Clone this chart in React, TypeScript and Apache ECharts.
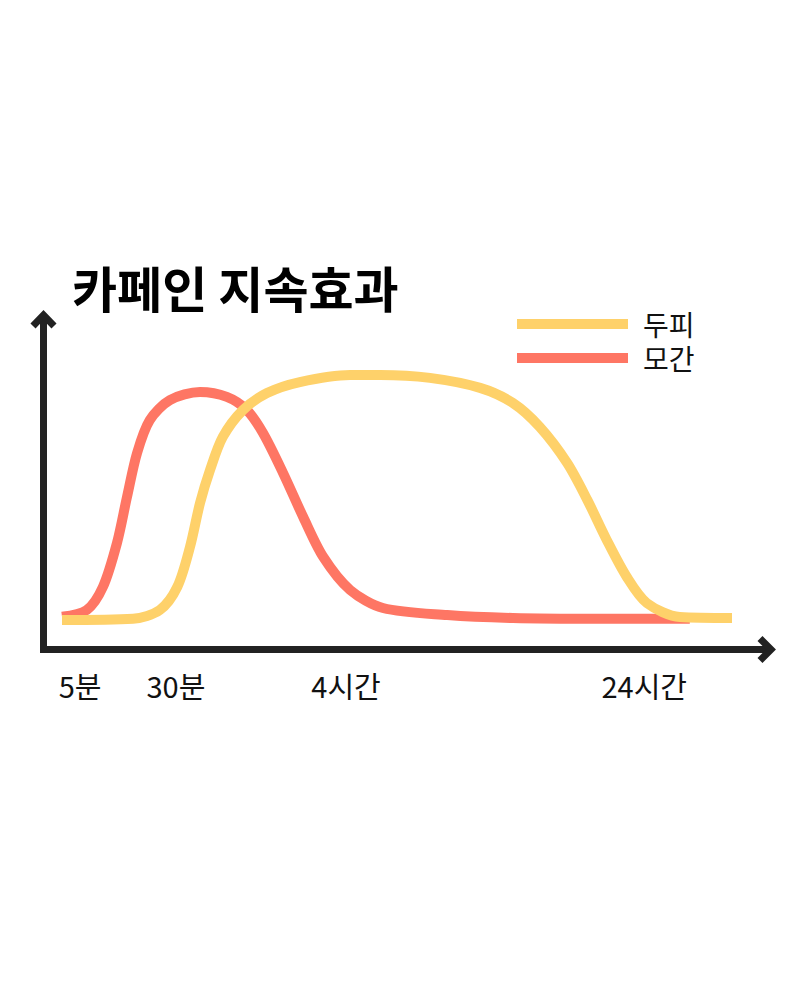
import React, { useEffect, useRef } from "react";
import * as echarts from "echarts";

// Time position (0–100 along the time axis) and effect level (0–100)
const hairCurve: [number, number][] = [
  [0, 0.5], [3.7, 3.3], [6.1, 12.7], [8.2, 30.7], [9.7, 49.6], [11.2, 67.6],
  [13.1, 81.1], [16.1, 89.3], [20.6, 92.6], [24.6, 90.6], [27.6, 85.2],
  [30.0, 75.8], [33.0, 59.4], [36.0, 41.4], [39.0, 25.0], [43.0, 11.5],
  [47.9, 4.1], [57.5, 1.2], [67.3, 0], [80, -0.3], [93.7, -0.3],
];

const scalpCurve: [number, number][] = [
  [0, -0.8], [10.6, -0.3], [14.6, 3.3], [17.2, 12.7], [19.1, 29.1], [20.6, 47.1],
  [22.1, 60.7], [24.0, 74.2], [27.0, 85.2], [30.6, 92.2], [35.5, 96.7],
  [43.0, 99.6], [47.5, 99.6], [54.9, 98.4], [62.4, 94.3], [67.3, 88.1],
  [71.3, 78.3], [75.4, 63.5], [78.4, 48.4], [81.3, 32.0], [84.3, 16.8],
  [87.3, 6.1], [92.2, 0.4], [100, 0],
];

const seriesNames = ["두피", "모간"];
const tickPositions = [2.7, 17.0, 42.4, 86.9];
const tickLabels = ["5분", "30분", "4시간", "24시간"];
const titleText = "카페인 지속효과";

const FONT = '"Noto Sans CJK KR", "Noto Sans", sans-serif';
const YELLOW = "#FED16A";
const RED = "#FE7664";
const AXIS = "#222222";

export default function App() {
  const ref = useRef<HTMLDivElement>(null);

  useEffect(() => {
    document.body.style.margin = "0";
    if (!ref.current) return;
    const chart = echarts.init(ref.current, null, { renderer: "svg" });
    const labelMap: Record<string, string> = {};
    tickPositions.forEach((p, i) => (labelMap[String(p)] = tickLabels[i]));

    chart.setOption({
      animation: false,
      backgroundColor: "#ffffff",
      title: {
        text: titleText,
        left: 67,
        top: 257,
        textStyle: { fontFamily: FONT, fontSize: 49, fontWeight: "bold", color: "#000" },
      },
      legend: {
        orient: "vertical",
        left: 512,
        top: 305,
        itemWidth: 111,
        itemHeight: 10,
        itemGap: 6,
        icon: "rect",
        data: seriesNames,
        textStyle: {
          fontFamily: FONT,
          fontSize: 28,
          color: "#111",
          padding: [0, 0, 0, 10],
        },
      },
      grid: { left: 62, right: 68, top: 374, bottom: 382 },
      xAxis: {
        type: "value",
        min: 0,
        max: 100,
        splitLine: { show: false },
        axisLine: { show: false },
        axisTick: { show: false },
        axisLabel: {
          customValues: tickPositions,
          formatter: (v: number) => labelMap[String(v)] ?? "",
          margin: 52,
          fontFamily: FONT,
          fontSize: 29,
          color: "#111",
        },
      },
      yAxis: {
        type: "value",
        min: 0,
        max: 100,
        show: false,
      },
      graphic: [
        {
          type: "line",
          shape: { x1: 43.5, y1: 653, x2: 43.5, y2: 316 },
          style: { stroke: AXIS, lineWidth: 7 },
          z: 1,
        },
        {
          type: "polyline",
          shape: { points: [[33, 326], [43.5, 315], [54, 326]] },
          style: { stroke: AXIS, lineWidth: 7, fill: null, lineJoin: "miter" },
          z: 1,
        },
        {
          type: "line",
          shape: { x1: 40, y1: 649.5, x2: 770, y2: 649.5 },
          style: { stroke: AXIS, lineWidth: 7 },
          z: 1,
        },
        {
          type: "polyline",
          shape: { points: [[760, 638.5], [771, 649.5], [760, 660.5]] },
          style: { stroke: AXIS, lineWidth: 7, fill: null, lineJoin: "miter" },
          z: 1,
        },
      ],
      series: [
        {
          name: seriesNames[1],
          type: "line",
          data: hairCurve,
          smooth: 0.3,
          showSymbol: false,
          clip: false,
          color: RED,
          lineStyle: { width: 10, color: RED, cap: "butt", join: "round" },
          z: 2,
        },
        {
          name: seriesNames[0],
          type: "line",
          data: scalpCurve,
          smooth: 0.3,
          showSymbol: false,
          clip: false,
          color: YELLOW,
          lineStyle: { width: 10, color: YELLOW, cap: "butt", join: "round" },
          z: 3,
        },
      ],
    });
    return () => chart.dispose();
  }, []);

  return <div ref={ref} style={{ width: 800, height: 1000 }} />;
}
